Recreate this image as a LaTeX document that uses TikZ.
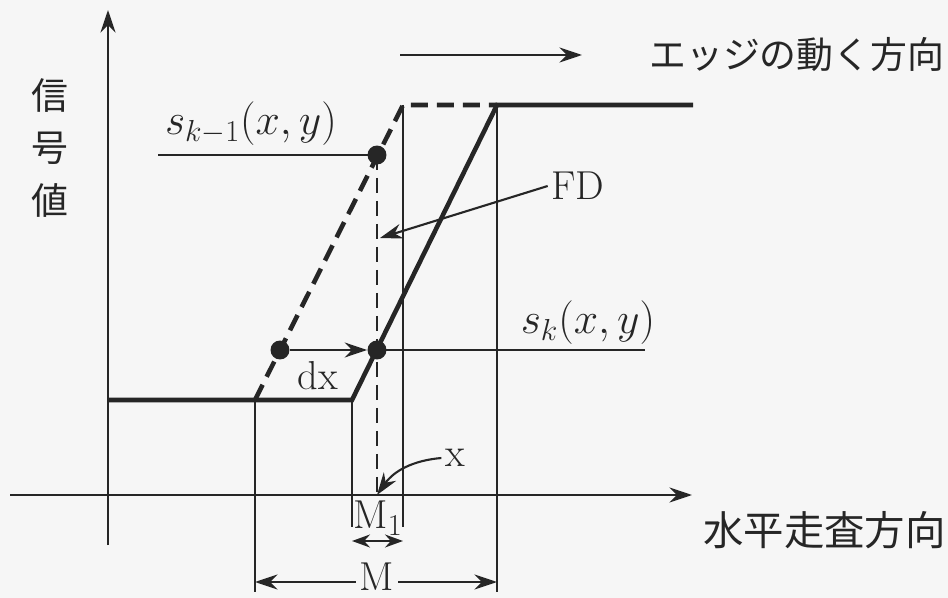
\documentclass[tikz,border=0pt]{standalone}
\usepackage{fontspec}
\newfontfamily\jp{Noto Sans CJK JP}
\usetikzlibrary{arrows.meta}
\begin{document}
\begin{tikzpicture}[x=0.02cm,y=-0.02cm,
 ink/.style={draw=black!85},
 thickl/.style={ink,line width=2.6pt},
 thinl/.style={ink,line width=1.2pt},
 dashthick/.style={ink,line width=2.6pt,dash pattern=on 0.34cm off 0.18cm},
 dashthin/.style={ink,line width=1.2pt,dash pattern=on 0.3cm off 0.16cm},
 dot/.style={circle,fill=black!85,inner sep=0pt,minimum size=0.38cm},
 lab/.style={text=black!85,font=\fontsize{23}{27}\selectfont,inner sep=2pt},
 jlab/.style={text=black!85,font=\jp\fontsize{21}{30}\selectfont},
 tip/.style={-{Stealth[length=0.45cm,width=0.3cm]}},
 dtip/.style={{Stealth[length=0.36cm,width=0.26cm]}-{Stealth[length=0.36cm,width=0.26cm]}},
]
\useasboundingbox[fill={rgb,255:red,246;green,246;blue,246}] (0,0) rectangle (948,598);
% axes
\coordinate (ybot) at (108,545);
\coordinate (ytop) at (108,10);
\draw[thinl,tip] (ybot) -- (ytop);
\coordinate (xlft) at (10,495);
\coordinate (xrgt) at (692,495);
\draw[thinl,tip] (xlft) -- (xrgt);
% signal profiles
\coordinate (L0) at (108,400);
\coordinate (A) at (255,400);
\coordinate (B) at (352,400);
\coordinate (C) at (403,105);
\coordinate (D) at (497,105);
\coordinate (E) at (693,105);
\draw[thickl] (L0) -- (B) -- (D) -- (E);
\draw[dashthick] (A) -- (C) -- (D);
% thin verticals
\coordinate (Ab) at (255,592);
\coordinate (Bb) at (352,527);
\coordinate (Cb) at (403,527);
\coordinate (Db) at (497,592);
\draw[thinl] (A) -- (Ab);
\draw[thinl] (B) -- (Bb);
\draw[thinl] (C) -- (Cb);
\draw[thinl] (D) -- (Db);
% points
\node[dot] (p1) at (377,155) {};
\node[dot] (p2) at (280,350) {};
\node[dot] (p3) at (377,350) {};
\coordinate (h1) at (158,155);
\coordinate (h2) at (645,350);
\coordinate (xp) at (377,495);
\draw[thinl] (h1) -- (p1.center);
\draw[thinl,tip] (p2) -- (p3);
\draw[thinl] (p3.center) -- (h2);
\draw[dashthin] (p1.center) -- (xp);
% labels
\node[lab] (sk1) at (251,124) {$s_{k-1}(x,y)$};
\node[lab] (sk) at (588,323) {$s_k(x,y)$};
\node[lab] (dx) at (318,376) {dx};
\node[lab] (fd) at (578,186) {FD};
\coordinate (fdt) at (380,238);
\draw[thinl,tip] (fd.west) -- (fdt);
\node[lab] (xl) at (455,458) {x};
\draw[thinl,tip] (xl.west) to[bend right=25] (xp);
% dimensions
\node[lab] (m1) at (378,518) {M$_1$};
\coordinate (m1a) at (352,541);
\coordinate (m1b) at (403,541);
\draw[thinl,dtip] (m1a) -- (m1b);
\node[lab] (m) at (377,577) {M};
\coordinate (ma) at (255,582);
\coordinate (mb) at (497,582);
\draw[thinl,tip] (m.west |- ma) -- (ma);
\draw[thinl,tip] (m.east |- mb) -- (mb);
% direction texts
\coordinate (ta) at (400,55);
\coordinate (tb) at (582,55);
\draw[thinl,tip] (ta) -- (tb);
\node[jlab,anchor=west] (edge) at (643,55) {エッジの動く方向};
\node[jlab,align=center] (sig) at (50,148) {信\\号\\値};
\node[jlab,font=\jp\fontsize{23}{30}\selectfont,anchor=west] (hs) at (697,530) {水平走査方向};
\end{tikzpicture}
\end{document}
